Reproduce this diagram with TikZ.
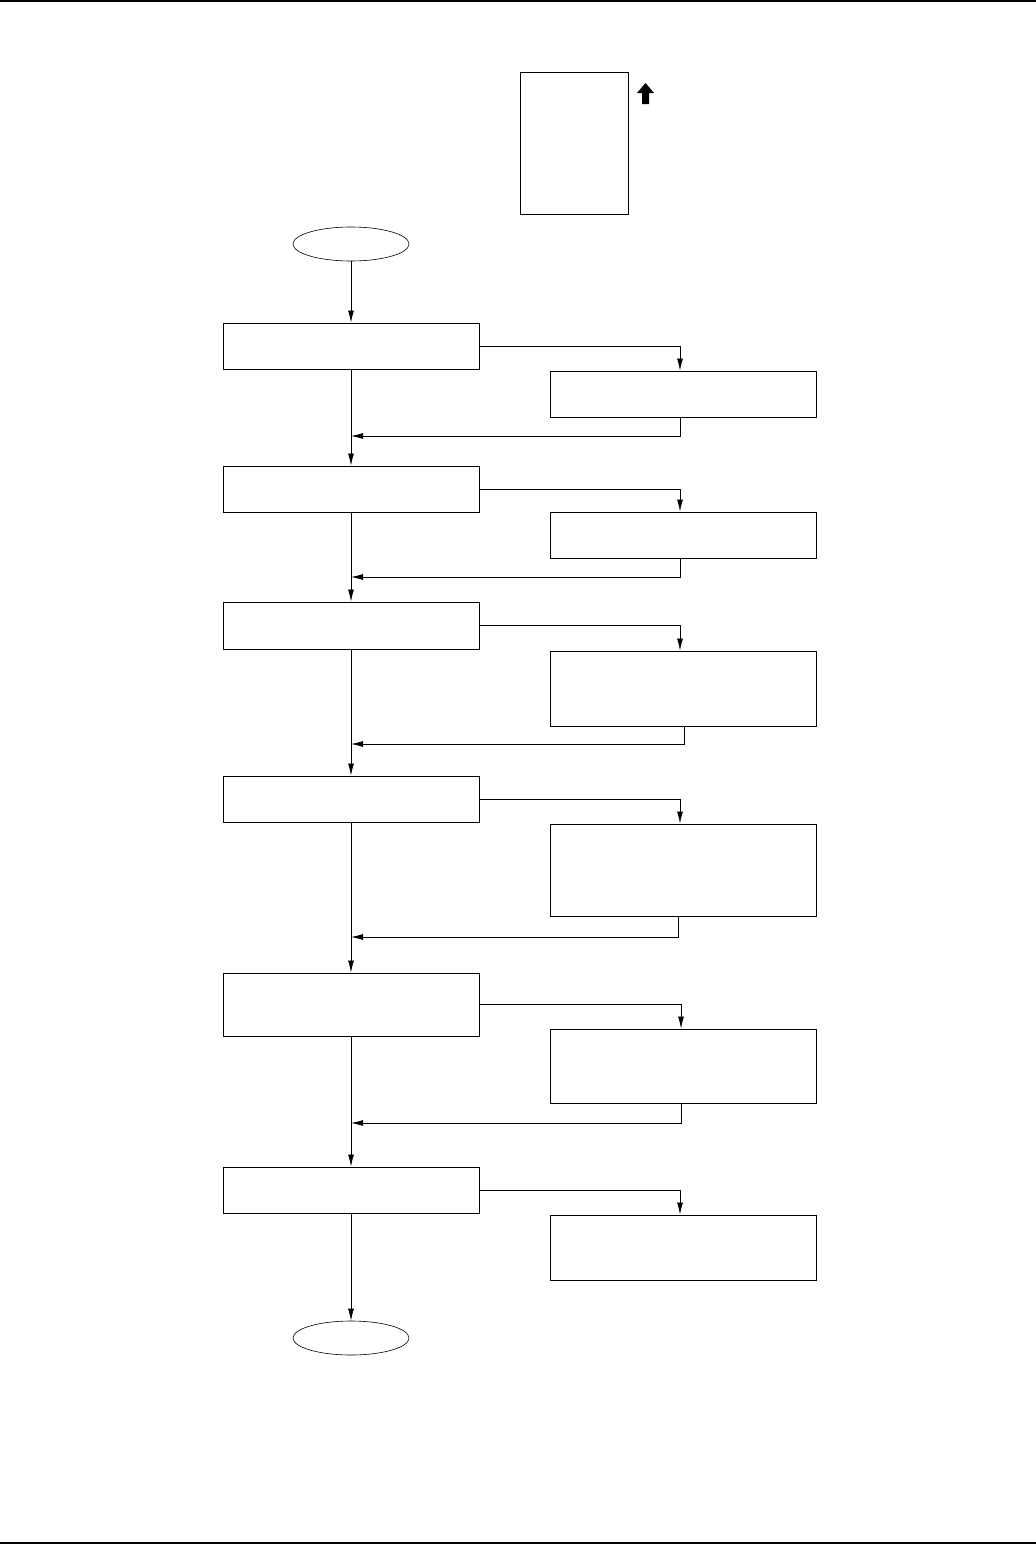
\documentclass[tikz,border=0pt]{standalone}
\usetikzlibrary{arrows.meta, positioning, shapes.geometric, calc}

\tikzset{
  stepbox/.style={draw, line width=0.9pt, minimum width=256pt, inner sep=0pt},
  subbox/.style={draw, line width=0.9pt, minimum width=266pt, inner sep=0pt},
  terminal/.style={draw, ellipse, line width=0.6pt, minimum width=116pt, minimum height=34pt, inner sep=0pt},
  flow/.style={line width=0.8pt, -{Latex[length=12pt, width=6pt]}},
  link/.style={line width=0.8pt}
}

\begin{document}
\begin{tikzpicture}[x=1pt, y=-1pt]
  \useasboundingbox (0,0) rectangle (1036,1545);
  \draw[line width=1.6pt] (0,1) -- (1036,1);
  \draw[line width=1.6pt] (0,1543) -- (1036,1543);

  % small sheet with block arrow
  \node[draw, line width=0.9pt, minimum width=108pt, minimum height=142pt, inner sep=0pt] (sheet) at (574,143) {};
  \fill (645.5,83) -- (654,93) -- (649,93) -- (649,104) -- (642,104) -- (642,93) -- (637,93) -- cycle;

  \node[terminal] (start) at (351,244) {};
  \node[terminal] (stop)  at (351,1338) {};

  % main steps and their side boxes
  \foreach \i/\ym/\hm/\yr/\hr in {1/346/46/394/46, 2/489/46/535/46, 3/625.5/47/688.5/75,
                                  4/799/46/870/92, 5/1004.5/63/1066/74, 6/1190/46/1247.5/65}
  {
    \node[stepbox, minimum height=\hm pt] (b\i) at (351,\ym) {};
    \node[subbox, minimum height=\hr pt] (r\i) at (683,\yr) {};
  }

  % junctions on the main line
  \coordinate (j1) at (351,436);
  \coordinate (j2) at (351,577);
  \coordinate (j3) at (351,744);
  \coordinate (j4) at (351,937);
  \coordinate (j5) at (351,1123);

  \draw[flow] (start) -- (b1);
  \draw[flow] (b1) -- (b2);
  \draw[flow] (b2) -- (b3);
  \draw[flow] (b3) -- (b4);
  \draw[flow] (b4) -- (b5);
  \draw[flow] (b5) -- (b6);
  \draw[flow] (b6) -- (stop);

  \draw[flow] (b1.east) -| ([xshift=-3pt]r1.north);
  \draw[flow] (b2.east) -| ([xshift=-3pt]r2.north);
  \draw[flow] (b3.east) -| ([xshift=-3pt]r3.north);
  \draw[flow] (b4.east) -| ([xshift=-3pt]r4.north);
  \draw[flow] (b5.east) -| ([xshift=-2pt]r5.north);
  \draw[flow] (b6.east) -| ([xshift=-3pt]r6.north);

  \draw[flow] ([xshift=-3pt]r1.south) |- (j1);
  \draw[flow] ([xshift=-3pt]r2.south) |- (j2);
  \draw[flow] ([xshift=1pt]r3.south) |- (j3);
  \draw[flow] ([xshift=-5pt]r4.south) |- (j4);
  \draw[flow] ([xshift=-2pt]r5.south) |- (j5);
\end{tikzpicture}
\end{document}
